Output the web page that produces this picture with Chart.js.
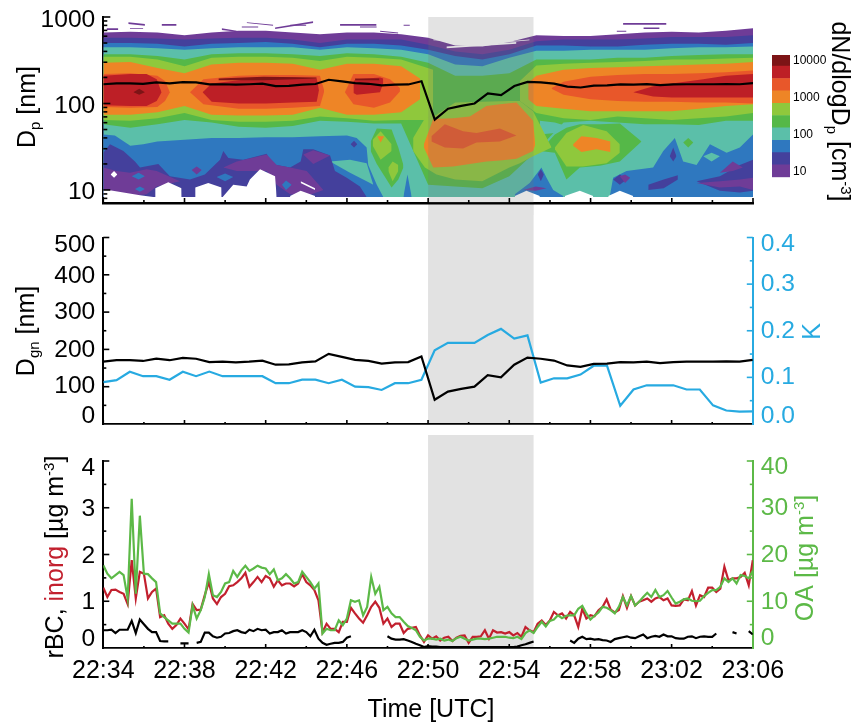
<!DOCTYPE html>
<html>
<head>
<meta charset="utf-8">
<script src="https://cdn.jsdelivr.net/npm/chart.js@4"></script>
<style>
  html, body { margin: 0; background: #fff; }
  #wrap { position: relative; width: 858px; height: 722px; overflow: hidden; }
  canvas { position: absolute; }
</style>
</head>
<body>
<div id="wrap">
  <canvas id="c1" width="858" height="215" style="left:0;top:0"></canvas>
  <canvas id="c2" width="858" height="220" style="left:0;top:215px"></canvas>
  <canvas id="c3" width="858" height="287" style="left:0;top:435px"></canvas>
  <canvas id="c4" width="86" height="150" style="left:772px;top:40px"></canvas>
</div>
<script>
const FONT = '"Liberation Sans", Arial, sans-serif';

// x axis is minutes after 22:34
const timeLabels = ['22:34', '22:38', '22:42', '22:46', '22:50', '22:54', '22:58', '23:02', '23:06'];
const bandTime = [16, 21.2];

// size distribution fit, 50 samples
const dgn = [167,171,171,169,175,171,177,175,166,167,165,167,170,159,160,165,168,188,180,172,169,162,165,166,181,65,87,94,100,131,125,159,178,175,170,157,153,161,162,166,165,167,163,166,167,167,167,168,167,172];
const kappa = [.09,.094,.112,.1025,.1025,.095,.112,.1025,.1125,.1025,.1025,.1025,.1025,.0875,.0875,.095,.095,.0875,.095,.08,.079,.073,.0875,.0875,.095,.158,.174,.174,.174,.191,.204,.183,.19,.089,.098,.098,.106,.125,.125,.039,.074,.083,.083,.083,.074,.074,.04,.029,.0265,.027];

// aerosol mass, 161 samples
const oa = [17.7,15.9,14.9,15.6,16.3,15.6,10.6,31.9,11.6,28.3,15.9,15.8,14.9,14.1,7.4,6.6,5.9,5.2,5.2,5.2,4.1,3.3,9.1,6.3,8.1,10.9,15.8,11.3,10.9,12.0,13.8,14.1,16.5,15.2,16.6,17.6,16.5,17.0,17.6,17.2,17.0,15.8,16.8,14.5,14.9,15.8,14.9,13.8,14.1,16.3,15.2,14.1,12.7,13.8,3.1,4.1,3.8,3.8,5.9,4.9,6.3,10.2,9.9,10.2,7.0,8.8,15.2,11.6,13.1,8.1,8.8,7.4,6.6,6.6,5.6,4.7,4.3,3.8,2.4,1.6,
  2.0,2.0,1.8,2.0,1.6,1.8,1.5,2.1,2.4,2.0,1.6,1.8,2.0,2.0,1.9,2.0,2.2,2.4,2.4,2.4,2.2,2.1,2.4,1.9,3.2,3.8,3.2,4.5,5.6,4.6,5.8,6.1,7.0,6.4,6.9,7.0,7.0,8.4,9.0,7.4,6.1,6.9,7.6,8.8,8.6,8.1,7.4,8.8,10.9,9.1,11.1,9.1,9.9,10.9,11.8,10.9,12.4,10.9,11.3,12.2,10.8,9.5,9.9,10.4,10.6,10.1,10.0,10.1,11.1,11.8,12.4,12.4,13.1,14.9,14.1,14.9,13.8,15.6,15.4,14.9,16.5];
const inorg = [1.29,1.09,1.24,1.25,1.2,1.16,.94,1.88,1.06,1.63,1.59,1.06,1.2,1.27,.66,.7,.52,.41,.49,.63,.52,.4,.94,.81,.82,1.13,1.41,1.06,.94,1.09,1.16,1.32,1.34,1.41,1.49,1.61,1.31,1.41,1.52,1.41,1.54,1.49,1.31,1.45,1.34,1.38,1.38,1.32,1.38,1.58,1.41,1.34,1.24,1.02,.34,.52,.41,.41,.34,.56,.56,.86,.74,.63,.54,.7,.88,.99,.86,.52,.63,.45,.52,.52,.32,.41,.43,.45,.27,.13,
  .27,.2,.25,.16,.22,.24,.15,.22,.26,.27,.11,.24,.24,.25,.38,.2,.38,.33,.34,.31,.34,.27,.32,.24,.45,.38,.34,.52,.59,.49,.59,.77,.7,.74,.63,.77,.7,.45,.84,.63,.7,.68,.81,.88,1.04,.82,.76,.81,1.11,.86,1.11,.91,.99,1.02,1.06,.99,1.06,1.09,1.02,1.06,.91,.9,.91,1.04,1.02,1.22,.91,1.13,1.09,1.29,1.29,1.2,1.27,1.74,1.45,1.49,1.49,1.52,1.61,1.34,1.88];
const rbc = [.38,.38,.39,.32,.39,.39,.39,.58,.32,.61,.51,.41,.34,.34,.15,.14,.14,null,null,.1,.1,.1,null,.11,.13,.33,.33,.25,.22,.24,.31,.32,.36,.38,.34,.32,.39,.36,.41,.38,.39,.31,.34,.34,.38,.31,.34,.34,.34,.38,.34,.25,.39,.2,.11,.07,.09,.11,.11,.13,.22,.25,null,null,null,null,null,null,null,null,.25,.2,.18,.18,.19,.16,.13,.09,.06,.02,
  .04,.03,.03,.02,.02,.02,.02,.02,.02,.02,.02,.02,.02,.02,.02,.02,.02,.02,.02,.02,.02,.02,.03,.06,.08,.11,.14,null,null,null,null,null,null,null,null,.16,.11,.2,.24,.19,.2,.18,.19,.17,.16,.13,.19,.21,.23,.25,.22,.21,.25,.29,.21,.24,.26,.24,.29,.25,.25,.21,.2,.2,.24,.25,.21,.24,.25,.24,.24,.31,null,null,null,.34,.31,null,null,.36,.29];

// contour outlines: log10(Dp) read at contourTime, minutes
const contourTime = [0,1.33,2.67,4,5.33,6.67,8,9.33,10.67,12,13.33,14.67,16,17.33,18.67,20,21.33,22.67,24,25.33,26.67,28,29.33,30.67,32];
const contourFloor = .92;
const purpleTop = [2.82,2.83,2.82,2.79,2.82,2.84,2.84,2.82,2.80,2.82,2.82,2.80,2.76,2.67,2.66,2.71,2.79,2.78,2.78,2.80,2.82,2.83,2.82,2.84,2.87];
const indigoTop = [2.76,2.76,2.75,2.74,2.75,2.76,2.76,2.74,2.70,2.74,2.74,2.74,2.68,2.60,2.57,2.62,2.72,2.74,2.74,2.74,2.75,2.77,2.77,2.77,2.79];
const blueTop = [2.70,2.70,2.69,2.66,2.69,2.70,2.71,2.69,2.65,2.69,2.69,2.67,2.62,2.55,2.51,2.57,2.67,2.67,2.66,2.66,2.68,2.69,2.69,2.68,2.70];
const tealTop = [2.65,2.65,2.64,2.62,2.64,2.65,2.65,2.65,2.62,2.65,2.64,2.62,2.57,2.45,2.43,2.53,2.61,2.61,2.62,2.62,2.62,2.64,2.65,2.65,2.66];
const greenTop = [2.57,2.57,2.55,2.51,2.57,2.58,2.58,2.57,2.55,2.58,2.57,2.54,2.47,2.32,2.32,2.35,2.51,2.51,2.51,2.53,2.53,2.55,2.56,2.57,2.57];
const greenBottom = [1.76,1.72,1.76,1.81,1.78,1.73,1.72,1.74,1.80,1.79,1.77,1.77,1.06,1.04,1.02,1.16,1.45,1.78,1.80,1.78,1.76,1.76,1.75,1.80,1.80];

// patches are [time, top, bottom]; bottom null means contourFloor
const bluePatches = [
  [[0,.57,1.33,1.97,2.66,4,5.34,6.67,8,9.33,10.67,12,12.48,12.97,13.05,13.47,13.79],[1.64,1.63,1.51,1.53,1.56,1.58,1.60,1.60,1.61,1.61,1.62,1.63,1.60,1.49,1.29,1.06,.92],null],
  [[14.78,14.98,15.19],[.92,1.18,.92],null],
  [[20.27,21,21.58,21.83,22.16,22.65],[.95,1.08,1.26,1.14,1,.93],null],
  [[24.95,25.11,25.77,27.08,27.58,28.15,28.56,29.22,29.88,30.7,31.35,32],[.93,1.14,1.22,1.26,1.45,1.6,1.33,1.29,1.53,1.43,1.49,1.64],null]
];
const tealPatches = [
  [[11.17,12.15,12.97,13.3],[1.33,1.35,1.31,1.06],[1.33,1.2,1.1,1.06]],
  [[29.55,29.96,30.37],[1.39,1.43,1.39],[1.39,1.33,1.39]]
];
const indigoPatches = [
  [[0,.33,.99,1.56,1.81,2.71,3.28,4.27,5,5.75,5.91,6.16,6.9,8.05,8.29,9.2,9.72,9.85,10.34,11.17,11.41,11.99,12.64,12.97],[1.43,1.53,1.45,1.33,1.26,1.30,1.16,1.12,1.18,1.35,1.45,1.37,1.35,1.42,1.30,1.26,1.33,1.47,1.47,1.40,1.22,1.14,1.04,.92],null],
  [[12.18,12.35,12.51],[1.53,1.57,1.53],[1.53,1.49,1.53]],
  [[21.4,21.55,21.7],[1.18,1.24,1.18],[1.18,1.1,1.18]],
  [[25.11,25.44,25.77],[1.12,1.18,1.12],[1.12,1.06,1.12]],
  [[26.84,27.6,28.3],[1.06,1.12,1.17],[1,1.02,1.12]],
  [[27.9,28.07,28.23],[1.39,1.49,1.39],[1.39,1.33,1.39]],
  [[29.22,30.37,31.35,32],[1.1,1.16,1.29,1.35],[1.1,.99,.97,.99]]
];
const purplePatches = [
  [[0,.66,1.31,2.13,2.63,3.78,3.86],[1.26,1.22,1.2,1.24,1.22,1.1,.99],[1.01,.95,.93,.95,1.04,1.1,.99]],
  [[5.91,6.57,8.05,8.54,9.2,10.02,10.84],[1.26,1.33,1.41,1.29,1.26,1.22,1],[1.26,1.22,1.22,1.06,.95,.93,1]],
  [[9.85,10.34,11.17],[1.41,1.46,1.40],[1.41,1.30,1.40]],
  [[4.35,4.6,4.85],[1.23,1.27,1.23],[1.23,1.18,1.23]],
  [[20.68,21.3,21.83],[1,1.04,1.02],[1,.99,1.02]],
  [[25.44,25.7,25.95],[1.16,1.18,1.14],[1.16,1.08,1.14]],
  [[29.22,30.37,31.35,32],[1.08,1.1,1.12,1.14],[1.08,1.03,1.04,1]],
  [[30.37,31,31.5],[1.2,1.33,1.26],[1.2,1.22,1.26]],
  // thin streaks above the main body
  [[1.23,2.05],[2.94,2.92],[2.92,2.9]],
  [[2.87,3.61],[2.92,2.92],[2.9,2.9]],
  [[5.83,6.57],[2.87,2.84],[2.85,2.83]],
  [[7.06,8.37],[2.94,2.91],[2.93,2.9]],
  [[6.81,7.64],[2.89,2.89],[2.88,2.88]],
  [[8.46,10.34],[2.88,2.95],[2.86,2.93]],
  [[9.2,10],[2.91,2.91],[2.9,2.9]],
  [[11.66,13.46],[2.92,2.92],[2.9,2.9]],
  [[12.64,13.47],[2.89,2.89],[2.88,2.88]],
  [[13.63,14.53],[2.84,2.82],[2.83,2.81]],
  [[14.78,15.1],[2.91,2.91],[2.9,2.9]],
  [[1.31,1.97],[2.87,2.87],[2.86,2.86]],
  [[.16,.74],[2.87,2.87],[2.85,2.85]],
  [[25.6,27.74],[2.93,2.93],[2.91,2.91]],
  [[26.6,27.4],[2.88,2.88],[2.86,2.86]],
  [[25.28,25.77],[2.84,2.84],[2.83,2.83]]
];
const blueSpots = [
  [[1.4,1.74,2.05],[1.16,1.2,1.16],[1.16,1.12,1.16]],
  [[1.56,1.8,2.05],[1.01,1.04,1.01],[1.01,.98,1.01]],
  [[5.58,6,6.4],[1.15,1.19,1.15],[1.15,1.1,1.15]],
  [[8.8,9,9.28],[1.06,1.11,1.06],[1.06,1,1.06]]
];
const emptyPatches = [
  [[0,.25,.99,1.81,2.46],[1,1,.97,.94,.92],null],
  [[2.55,2.56,3.2,3.85,3.86],[.92,1.02,1.09,1.02,.92],null],
  [[4.52,4.53,5.17,5.82,5.83],[.92,1.03,1.08,1.03,.92],null],
  [[5.88,6.4,7.06,7.22,7.72,8.46,8.54],[.92,1.06,1.04,1.12,1.24,1.16,.92],null],
  [[9.2,9.72,10.43],[.93,.99,.93],null],
  [[.36,.53,.69],[1.18,1.22,1.18],[1.18,1.14,1.18]],
  [[9.72,10.43],[1.1,1.02],[1.08,1]],
  [[20.27,20.84,21.5],[.93,.99,.93],null],
  [[22.73,23.47,24.13],[.93,.99,.93],null],
  [[24.87,25.44,26.1],[.93,.99,.93],null],
  [[16.25,17.4],[2.74,2.73],[2.73,2.72]],
  [[16.9,20.35],[2.66,2.71],[2.64,2.69]],
  [[18.05,21],[2.68,2.74],[2.67,2.73]]
];
const greenPatches = [
  [[13.17,13.47,14.2,14.53,14.78],[1.56,1.71,1.70,1.49,1.29],[1.45,1.30,1.03,1.12,1.26]],
  [[21.5,22.24,22.81,23.47,24.46,25.44,26.51],[1.45,1.64,1.72,1.76,1.76,1.77,1.56],[1.45,1.43,1.12,1.26,1.28,1.33,1.56]],
  [[28.56,28.81,29.06],[1.55,1.6,1.55],[1.55,1.49,1.55]]
];
const tealPocket = [[21.5,22.24,22.65],[1.80,1.78,1.75],[1.64,1.66,1.75]];
const limePatches = [
  [[0,1.33,2.67,4,5.33,6.67,8,9.33,10.67,12,13.33,14.67,16.25],[2.54,2.54,2.51,2.43,2.53,2.54,2.54,2.53,2.49,2.54,2.53,2.51,2.39],[1.81,1.80,1.83,1.89,1.81,1.79,1.79,1.80,1.85,1.83,1.80,1.81,1.81]],
  [[20.52,21.33,22.67,24,25.33,26.67,28,29.33,30.67,32],[2.26,2.44,2.46,2.47,2.48,2.49,2.51,2.51,2.52,2.53],[2.03,1.89,1.83,1.81,1.85,1.83,1.81,1.83,1.85,1.89]],
  [[15.26,15.84,16.41,17.33,18.66,20,20.52,21.17,22.08],[1.6,1.83,1.87,2.01,2.02,2.03,2.03,1.91,1.49],[1.45,1.26,1.18,1.12,1.10,1.26,1.31,1.39,1.49]],
  [[13.27,13.66,14.2],[1.58,1.68,1.53],[1.51,1.35,1.45]],
  [[14.04,14.25,14.53],[1.26,1.33,1.29],[1.22,1.1,1.22]],
  [[22.24,22.81,23.64,24.79,25.44],[1.49,1.66,1.75,1.68,1.53],[1.47,1.27,1.27,1.31,1.43]]
];
const orangePatches = [
  [[0,1.33,2.67,4,5.33,6.67,8,9.33,10.67,12,13.33,14.67,15.6],[2.47,2.48,2.41,2.35,2.45,2.47,2.47,2.46,2.39,2.46,2.46,2.43,2.29],[1.87,1.87,1.90,1.97,1.87,1.86,1.86,1.87,1.95,1.87,1.87,1.90,2.05]],
  [[20.93,21.33,22.67,24,25.33,26.67,28,29.33,30.67,32],[2.24,2.32,2.39,2.41,2.42,2.43,2.44,2.45,2.46,2.48],[2.05,1.97,1.94,1.91,1.91,1.91,1.91,1.94,1.97,1.99]],
  [[15.79,16.25,17.23,18.05,18.87,19.53,20.35,21.17,21.27],[1.53,1.82,1.83,1.85,1.97,1.99,2.01,1.80,1.53],[1.49,1.26,1.27,1.30,1.33,1.34,1.36,1.45,1.52]],
  [[13.5,13.66,13.83],[1.62,1.62,1.62],[1.62,1.55,1.62]],
  [[23.14,23.55,24.29,24.98],[1.53,1.62,1.6,1.56],[1.51,1.44,1.47,1.44]]
];
const scarletPatches = [
  [[0,1.33,2.66,3.04,3.28],[2.34,2.35,2.32,2.26,2.13],[1.96,1.95,1.96,2.03,2.13]],
  [[4.27,4.93,6.67,8,9.33,10.67,10.87],[2.13,2.28,2.32,2.33,2.33,2.32,2.16],[2.13,1.99,1.94,1.94,1.95,1.97,2.13]],
  [[11.9,12.32,13.33,14.12,14.61],[2.13,2.34,2.34,2.28,2.18],[2.13,1.99,1.95,2.01,2.14]],
  [[22.08,22.67,24,25.33,26.67,28,29.33,30.66,32],[2.18,2.25,2.31,2.33,2.34,2.34,2.35,2.36,2.38],[2.17,2.10,2.05,2.03,2.02,2.02,2.01,2.01,2]],
  [[16.16,16.82,17.72,18.38,19.53,20.35],[1.62,1.76,1.68,1.66,1.71,1.63],[1.56,1.49,1.48,1.55,1.56,1.63]]
];
const redPatches = [
  [[0,1.33,2.13,2.63,2.87],[2.32,2.34,2.34,2.28,2.13],[1.98,1.97,1.97,2.03,2.13]],
  [[4.89,5.34,6.67,8,9.33,10.51,10.62],[2.13,2.23,2.27,2.30,2.30,2.29,2.16],[2.13,2.02,2,2,2.01,2.02,2.15]],
  [[12.32,12.48,13.63,13.79],[2.26,2.28,2.30,2.29],[2.12,2.10,2.13,2.24]],
  [[26.1,27.08,28,29.55,30.66,32],[2.13,2.2,2.23,2.28,2.32,2.34],[2.13,2.08,2.07,2.07,2.07,2.07]]
];
const darkRedPatches = [
  [[1.48,1.77,2.05],[2.13,2.17,2.13],[2.13,2.1,2.13]],
  [[5.67,7.89,10.51],[2.29,2.31,2.30],[2.27,2.27,2.29]],
  [[12.4,13.6],[2.29,2.29],[2.27,2.27]]
];

// colour bar
const colorLevels = [7.2,15.6,33.5,72,155,335,720,1550,3350,7200,14450];
const colorSteps = ['#6f3c97','#44409c','#2f78bf','#5bbfa9','#55b848','#8fc83c','#ee8526','#e8572a','#bd1f26','#7d1416'];
const colorTicks = [10,100,1000,10000];

const dpMajor = [10,100,1000];
const dpMinor = [8,9,20,30,40,50,60,70,80,90,200,300,400,500,600,700,800,900];
const dpLabels = [10,100,1000];

const [cPurple, cIndigo, cBlue, cTeal, cGreen, cLime, cOrange, cScarlet, cRed, cDark] = colorSteps;
const skyBlue = '#27aae1';
const oaGreen = '#5cb947';
const inorgRed = '#c2202e';

const timeAt = (i, n) => i * 32 / (n - 1);
const series = arr => arr.map((v, i) => ({ x: timeAt(i, arr.length), y: v }));

function fixedX(h, showLabels, lineWidth) {
  return {
    type: 'linear', min: 0, max: 32,
    afterFit: s => { s.height = h; s.paddingLeft = s.paddingRight = 0; },
    border: { display: true, color: '#000', width: lineWidth },
    grid: { display: false, drawTicks: false },
    ticks: {
      display: showLabels, stepSize: 4, autoSkip: false, maxRotation: 0, padding: 8,
      color: '#000', font: { family: FONT, size: 25 },
      callback: (v, i) => timeLabels[i]
    }
  };
}
function fixedY(position, w, color, min, max, step, fmt) {
  return {
    type: 'linear', position, min, max,
    afterFit: s => { s.width = w; s.paddingTop = s.paddingBottom = 0; },
    border: { display: true, color, width: 2 },
    grid: { display: false, drawTicks: false },
    ticks: {
      stepSize: step, autoSkip: false, padding: 8, color,
      font: { family: FONT, size: 24.6 },
      callback: fmt
    }
  };
}

// ticks of the original point inward and come in two lengths
function tickPlugin(specs) {
  return {
    id: 'inwardTicks',
    afterDraw(chart) {
      const ctx = chart.ctx, a = chart.chartArea;
      ctx.save();
      specs.forEach(sp => {
        const s = chart.scales[sp.scale];
        ctx.strokeStyle = sp.color || '#000';
        ctx.lineWidth = sp.width || 1.6;
        sp.values.forEach(v => {
          const p = s.getPixelForValue(v);
          ctx.beginPath();
          if (sp.scale === 'x') { ctx.moveTo(p, a.bottom); ctx.lineTo(p, a.bottom - sp.len); }
          else if (s.position === 'left') { ctx.moveTo(a.left, p); ctx.lineTo(a.left + sp.len, p); }
          else { ctx.moveTo(a.right, p); ctx.lineTo(a.right - sp.len, p); }
          ctx.stroke();
        });
      });
      ctx.restore();
    }
  };
}

// in the original the end labels sit inside the axis, the rest nearly on their ticks
function nudgePlugin(offsets) {
  return {
    id: 'labelNudge',
    beforeDraw(chart) {
      Object.keys(offsets).forEach(id => {
        chart.scales[id].getLabelItems().forEach((it, i) => {
          it.options.translation[1] += offsets[id][i] || 0;
        });
      });
    }
  };
}

// titles with sub/superscripts and mixed colours
function richText(ctx, x, y, angle, runs) {
  ctx.save();
  ctx.translate(x, y);
  ctx.rotate(angle);
  ctx.textBaseline = 'alphabetic';
  ctx.textAlign = 'left';
  let w = 0;
  runs.forEach(r => { ctx.font = (r.size || 25) + 'px ' + FONT; w += ctx.measureText(r.t).width; });
  let cx = -w / 2;
  runs.forEach(r => {
    ctx.font = (r.size || 25) + 'px ' + FONT;
    ctx.fillStyle = r.color || '#000';
    ctx.fillText(r.t, cx, r.dy || 0);
    cx += ctx.measureText(r.t).width;
  });
  ctx.restore();
}
function titlePlugin(items) {
  return {
    id: 'richTitles',
    afterDraw(chart) { items.forEach(it => richText(chart.ctx, it.x, it.y, it.angle, it.runs)); }
  };
}
function bandPlugin(top, bottom) {
  return {
    id: 'eventBand',
    beforeDraw(chart) {
      const x = chart.scales.x;
      const ctx = chart.ctx;
      const l = x.getPixelForValue(bandTime[0]), r = x.getPixelForValue(bandTime[1]);
      ctx.save();
      ctx.fillStyle = '#e2e2e2';
      ctx.fillRect(l, top, r - l, bottom - top);
      ctx.restore();
    }
  };
}

// --- size distribution panel
const contourSets = [];
function addPatch(color, t, top, bottom) {
  const idx = contourSets.length;
  const pts = vals => t.map((x, i) => ({ x, y: Math.pow(10, vals ? vals[i] : contourFloor) }));
  const base = { borderWidth: 0, pointRadius: 0, tension: 0, yAxisID: 'y', backgroundColor: color };
  contourSets.push({ ...base, data: pts(top), fill: { target: idx + 1 }, order: 5000 - idx });
  contourSets.push({ ...base, data: pts(bottom), fill: false, order: 5000 - idx - 1 });
}
const addAll = (color, list) => list.forEach(p => addPatch(color, p[0], p[1], p[2]));

addPatch(cPurple, contourTime, purpleTop, null);
addPatch(cIndigo, contourTime, indigoTop, null);
addPatch(cBlue, contourTime, blueTop, null);
addPatch(cTeal, contourTime, tealTop, null);
addAll(cBlue, bluePatches);
addAll(cTeal, tealPatches);
addAll(cIndigo, indigoPatches);
addAll(cPurple, purplePatches);
addAll(cBlue, blueSpots);
addAll('#ffffff', emptyPatches);
addPatch(cGreen, contourTime, greenTop, greenBottom);
addAll(cGreen, greenPatches);
addPatch(cTeal, tealPocket[0], tealPocket[1], tealPocket[2]);
addAll(cLime, limePatches);
addAll(cOrange, orangePatches);
addAll(cScarlet, scarletPatches);
addAll(cRed, redPatches);
addAll(cDark, darkRedPatches);
// the event band lies over the contours but under the fit line
{
  const idx = contourSets.length;
  const base = { borderWidth: 0, pointRadius: 0, tension: 0, backgroundColor: 'rgba(113,113,113,0.2)' };
  contourSets.push({ ...base, data: bandTime.map(x => ({ x, y: 1000 })), fill: { target: idx + 1 }, order: 5000 - idx });
  contourSets.push({ ...base, data: bandTime.map(x => ({ x, y: 7.07 })), fill: false, order: 5000 - idx - 1 });
}
contourSets.push({ data: series(dgn), borderColor: '#000', borderWidth: 2.2, pointRadius: 0, tension: 0, fill: false, order: 1 });

new Chart(document.getElementById('c1'), {
  type: 'line',
  data: { datasets: contourSets },
  options: {
    responsive: false, animation: false, events: [],
    layout: { padding: { top: 17, bottom: 12, left: 0, right: 105 } },
    plugins: { legend: { display: false }, tooltip: { enabled: false } },
    scales: {
      x: fixedX(0, false, 2.6),
      y: {
        type: 'logarithmic', position: 'left', min: 7.07, max: 1000,
        afterFit: s => { s.width = 103.3; s.paddingTop = s.paddingBottom = 0; },
        afterBuildTicks: s => { s.ticks = dpLabels.map(v => ({ value: v, major: true })); },
        border: { display: true, color: '#000', width: 2 },
        grid: { display: false, drawTicks: false },
        ticks: { autoSkip: false, padding: 8, color: '#000', font: { family: FONT, size: 24.6 }, callback: v => String(v) }
      }
    }
  },
  plugins: [
    bandPlugin(203, 215),
    nudgePlugin({ y: [2, 3, 3] }),
    tickPlugin([
      { scale: 'y', values: dpMajor, len: 7 },
      { scale: 'y', values: dpMinor, len: 4 },
      { scale: 'x', values: [0,4,8,12,16,20,24,28,32], len: 5 },
      { scale: 'x', values: [2,6,10,14,18,22,26,30], len: 3 }
    ]),
    titlePlugin([
      { x: 35, y: 107, angle: -Math.PI / 2, runs: [{ t: 'D' }, { t: 'p', size: 15, dy: 5 }, { t: ' [nm]' }] },
      { x: 832, y: 111.5, angle: Math.PI / 2, runs: [{ t: 'dN/dlogD' }, { t: 'p', size: 15, dy: 5 }, { t: ' [cm' }, { t: '-3', size: 15, dy: -9 }, { t: ']' }] }
    ])
  ]
});

// --- Dgn and kappa panel
new Chart(document.getElementById('c2'), {
  type: 'line',
  data: { datasets: [
    { data: series(dgn), yAxisID: 'y', borderColor: '#000', borderWidth: 2.2, pointRadius: 0, tension: 0 },
    { data: series(kappa), yAxisID: 'y1', borderColor: skyBlue, borderWidth: 2.2, pointRadius: 0, tension: 0 }
  ] },
  options: {
    responsive: false, animation: false, events: [],
    layout: { padding: { top: 22.5, bottom: 11, left: 0, right: 0 } },
    plugins: { legend: { display: false }, tooltip: { enabled: false } },
    scales: {
      x: fixedX(0, false, 1.8),
      y: fixedY('left', 103.3, '#000', 0, 500, 100, v => String(v)),
      y1: fixedY('right', 105.2, skyBlue, 0, 0.4, 0.1, v => v.toFixed(1))
    }
  },
  plugins: [
    bandPlugin(0, 209),
    nudgePlugin({ y: [-8, 0, 1, 0, 1, 7.5], y1: [-8, 0, 0, 0, 7] }),
    tickPlugin([
      { scale: 'y', values: [100,200,300,400,500], len: 6 },
      { scale: 'y', values: [50,150,250,350,450], len: 3 },
      { scale: 'y1', values: [.1,.2,.3,.4], len: 6, color: skyBlue },
      { scale: 'y1', values: [.05,.15,.25,.35], len: 3, color: skyBlue },
      { scale: 'x', values: [0,4,8,12,16,20,24,28], len: 4 },
      { scale: 'x', values: [2,6,10,14,18,22,26,30], len: 2 }
    ]),
    titlePlugin([
      { x: 33.5, y: 116, angle: -Math.PI / 2, runs: [{ t: 'D' }, { t: 'gn', size: 15, dy: 5 }, { t: ' [nm]' }] },
      { x: 820, y: 116.5, angle: -Math.PI / 2, runs: [{ t: 'K', color: skyBlue }] }
    ])
  ]
});

// --- mass panel
new Chart(document.getElementById('c3'), {
  type: 'line',
  data: { datasets: [
    { data: series(oa), yAxisID: 'y1', borderColor: oaGreen, borderWidth: 2.2, pointRadius: 0, tension: 0, order: 1 },
    { data: series(inorg), yAxisID: 'y', borderColor: inorgRed, borderWidth: 2.2, pointRadius: 0, tension: 0, order: 2 },
    { data: series(rbc), yAxisID: 'y', borderColor: '#000', borderWidth: 2.2, pointRadius: 0, tension: 0, spanGaps: false, order: 3 }
  ] },
  options: {
    responsive: false, animation: false, events: [],
    layout: { padding: { top: 26, bottom: 0, left: 0, right: 0 } },
    plugins: { legend: { display: false }, tooltip: { enabled: false } },
    scales: {
      x: fixedX(74, true, 1.8),
      y: fixedY('left', 103.3, '#000', 0, 4, 1, v => String(v)),
      y1: fixedY('right', 105.2, oaGreen, 0, 40, 10, v => String(v))
    }
  },
  plugins: [
    bandPlugin(0, 213),
    nudgePlugin({ y: [-9, 1, 2, 1, 7], y1: [-10, 1, 1, 0, 6] }),
    tickPlugin([
      { scale: 'y', values: [1,2,3,4], len: 6 },
      { scale: 'y', values: [.5,1.5,2.5,3.5], len: 3 },
      { scale: 'y1', values: [10,20,30,40], len: 6, color: oaGreen },
      { scale: 'y1', values: [5,15,25,35], len: 3, color: oaGreen },
      { scale: 'x', values: [4,8,12,16,20,24,28], len: 4 },
      { scale: 'x', values: [2,6,10,14,18,22,26,30], len: 2 }
    ]),
    titlePlugin([
      { x: 63, y: 122, angle: -Math.PI / 2, runs: [{ t: 'rBC, ' }, { t: 'inorg', color: inorgRed }, { t: ' [µg m' }, { t: '-3', size: 15, dy: -9 }, { t: ']' }] },
      { x: 813, y: 123, angle: -Math.PI / 2, runs: [{ t: 'OA [µg m', color: oaGreen }, { t: '-3', size: 15, dy: -9, color: oaGreen }, { t: ']', color: oaGreen }] },
      { x: 431, y: 282, angle: 0, runs: [{ t: 'Time [UTC]' }] }
    ])
  ]
});

// --- colour bar
new Chart(document.getElementById('c4'), {
  type: 'bar',
  data: {
    labels: [''],
    datasets: colorSteps.map((c, i) => ({
      data: [[colorLevels[i], colorLevels[i + 1]]],
      backgroundColor: c, borderWidth: 0, barPercentage: 1, categoryPercentage: 1, grouped: false
    }))
  },
  options: {
    responsive: false, animation: false, events: [],
    layout: { padding: { top: 15, bottom: 12.7, left: 0, right: 0 } },
    plugins: { legend: { display: false }, tooltip: { enabled: false } },
    scales: {
      x: { display: false },
      y: {
        type: 'logarithmic', position: 'right', min: colorLevels[0], max: colorLevels[10],
        afterFit: s => { s.width = 68; s.paddingTop = s.paddingBottom = 0; },
        afterBuildTicks: s => { s.ticks = colorTicks.map(v => ({ value: v, major: true })); },
        border: { display: false },
        grid: { display: false, drawTicks: false },
        ticks: { autoSkip: false, padding: 3, color: '#000', font: { family: FONT, size: 12 }, callback: v => String(v) }
      }
    }
  }
});
</script>
</body>
</html>
